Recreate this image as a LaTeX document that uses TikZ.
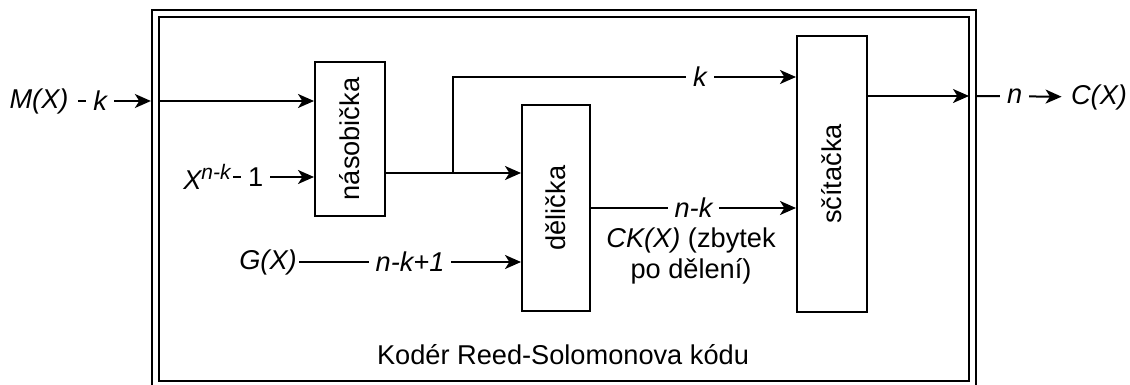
\documentclass[tikz,border=0pt]{standalone}
\usepackage{fontspec}
\setmainfont{Liberation Sans}
\usetikzlibrary{positioning, arrows.meta, calc}

\tikzset{
	block/.style={draw, line width=1pt, inner sep=0pt},
	frame/.style={draw, line width=1pt, double, double distance=2.5pt, inner sep=0pt},
	conn/.style={line width=1pt, -{Stealth[length=8pt, width=7pt, inset=2.2pt]}},
	elbl/.style={fill=white, inner xsep=3.5pt, inner ysep=1pt, font=\itshape},
	lbl/.style={font=\itshape},
}

\begin{document}
\fontsize{13.6}{15.5}\selectfont
\begin{tikzpicture}[x=0.5pt, y=-0.5pt]
	\useasboundingbox (0,0) rectangle (1130,385);
	% ---- encoder frame ----
	\node[frame, minimum width=408.25pt, minimum height=185pt] (enc) at (563.75,199) {};
	\node (title) at (563,355) {Kodér Reed-Solomonova kódu};
	% ---- blocks ----
	\node[block, minimum width=35pt, minimum height=77pt, label={[rotate=90]center:násobička}] (nas) at (350,139) {};
	\node[block, minimum width=34pt, minimum height=103pt, label={[rotate=90]center:dělička}] (del) at (556,208) {};
	\node[block, minimum width=35pt, minimum height=138pt, label={[rotate=90]center:sčítačka}] (sci) at (832,174) {};
	% ---- inputs ----
	\node[lbl] (mx) at (39,101) {M(X)};
	\node[lbl, inner xsep=1pt] (xn) at (207,177) {X\raisebox{5pt}{\fontsize{10.5}{12}\selectfont n-k}};
	\node[lbl, inner xsep=1pt] (gx) at (268,262) {G(X)};
	\node[lbl] (cx) at (1099,97) {C(X)};
	\draw[conn, shorten >=1.8pt] (mx) -- node[elbl, pos=0.29]{k} (mx -| enc.west);
	\draw[conn, shorten <=1.8pt] (mx -| enc.west) -- (mx -| nas.west);
	\draw[conn] (xn) -- node[elbl, font=\upshape, pos=0.28]{1} (xn -| nas.west);
	\draw[conn] (gx) -- node[elbl, pos=0.5]{n-k+1} (gx -| del.west);
	% ---- inner connections ----
	\coordinate (split) at (453,173);
	\draw[conn] (split -| nas.east) -- (split -| del.west);
	\draw[conn] (split) |- node[elbl, pos=0.86]{k} ([yshift=-21pt]sci.north west);
	\draw[conn] (del.east) -- node[elbl, pos=0.5] (nk) {n-k} (del.east -| sci.west);
	\node[align=center] (ck) at (691,256) {\textit{CK(X)} (zbytek\\po dělení)};
	% ---- output ----
	\coordinate (sout) at ([yshift=-30.5pt]sci.north east);
	\draw[conn, shorten >=2pt] (sout) -- (sout -| enc.east);
	\draw[conn, shorten <=1.8pt] (sout -| enc.east) -- node[elbl, pos=0.47]{n} (cx);
\end{tikzpicture}
\end{document}
